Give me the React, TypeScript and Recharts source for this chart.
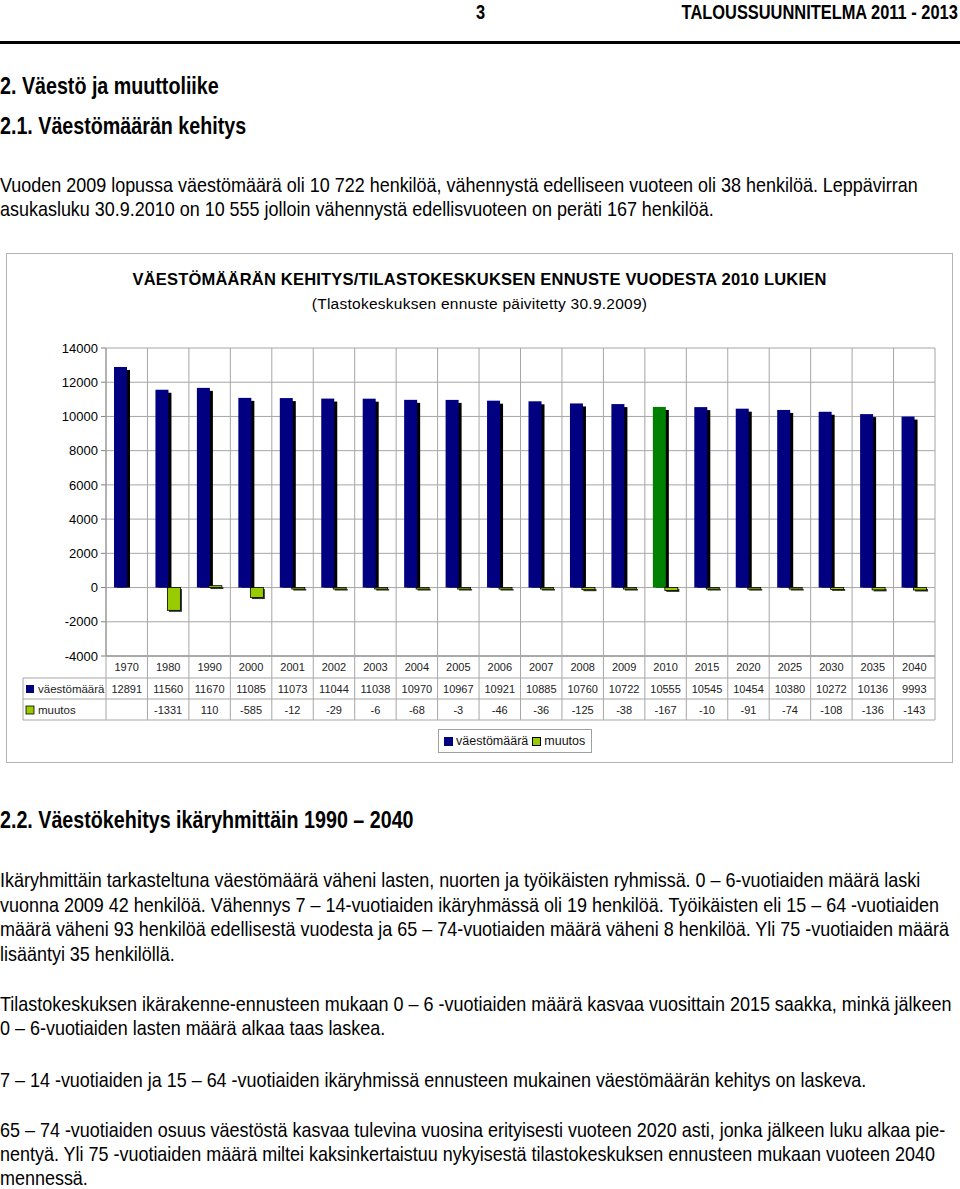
import React from "react";
import {
  BarChart,
  Bar,
  XAxis,
  YAxis,
  CartesianGrid,
  Cell,
  Legend,
} from "recharts";

// chart data
const years = [
  "1970", "1980", "1990", "2000", "2001", "2002", "2003", "2004", "2005", "2006",
  "2007", "2008", "2009", "2010", "2015", "2020", "2025", "2030", "2035", "2040",
];
const vaestomaara = [
  12891, 11560, 11670, 11085, 11073, 11044, 11038, 10970, 10967, 10921,
  10885, 10760, 10722, 10555, 10545, 10454, 10380, 10272, 10136, 9993,
];
const muutos: (number | null)[] = [
  null, -1331, 110, -585, -12, -29, -6, -68, -3, -46,
  -36, -125, -38, -167, -10, -91, -74, -108, -136, -143,
];
const yTicks = [-4000, -2000, 0, 2000, 4000, 6000, 8000, 10000, 12000, 14000];
const highlightYear = "2010";

const NAVY = "#000080";
const HILITE = "#008000";
const LIME = "#99CC00";
const GRID = "#a6a6a6";
const AXIS = "#808080";

const CHART_W = 945;
const CHART_H = 508;
const PLOT_H = 308;
const BAND = (CHART_W - 99 - 17) / years.length;

const chartFont = "'Liberation Sans', Arial, sans-serif";
// Arial Narrow is not installed, so the page text is Arial squeezed horizontally
const pageFont = "'Liberation Sans', Arial, sans-serif";
const NARROW = 0.82;
const BODY_NARROW = 0.855;

const chartData = years.map((y, i) => ({
  year: y,
  vaesto: vaestomaara[i],
  muutos: muutos[i],
}));

function ShadowBar(props: any) {
  const { x, y, width, height, fill } = props;
  if (x == null || y == null) return null;
  const top = Math.min(y, y + height);
  const h = Math.abs(height);
  return (
    <g>
      <rect x={x + 3} y={top + 3} width={width} height={Math.max(h - 3, 0)} fill="#000" />
      <rect x={x} y={top} width={width} height={h} fill={fill} />
    </g>
  );
}

function ChangeBar(props: any) {
  const { x, y, width, height } = props;
  if (x == null || y == null || height == null) return null;
  const top = Math.min(y, y + height);
  const h = Math.max(Math.abs(height), 1.5);
  return (
    <g>
      <rect x={x + 1.5} y={top + 1.5} width={width} height={h} fill="#333" />
      <rect x={x} y={top} width={width} height={h} fill={LIME} stroke="#000" strokeWidth={0.8} />
    </g>
  );
}

// draws the data table under the plot, one column per tick
function TableTick(props: any) {
  const { x, y, payload, index } = props;
  const half = (payload && payload.offset) || BAND / 2;
  const i = index ?? 0;
  const left = x - half;
  const right = x + half;
  const r1 = y + 22;
  const r2 = y + 43;
  const r3 = y + 64;
  const ch = muutos[i];
  const txt = { fontSize: 11, fontFamily: chartFont, fill: "#222", textAnchor: "middle" as const };
  return (
    <g>
      <line x1={left} x2={left} y1={y - PLOT_H} y2={r3} stroke={GRID} />
      {i === years.length - 1 && (
        <line x1={right} x2={right} y1={y - PLOT_H} y2={r3} stroke={GRID} />
      )}
      <line x1={left} x2={right} y1={r1} y2={r1} stroke={GRID} />
      <line x1={left} x2={right} y1={r2} y2={r2} stroke={GRID} />
      <line x1={left} x2={right} y1={r3} y2={r3} stroke={GRID} />
      <text x={x} y={y + 15} {...txt}>{payload.value}</text>
      <text x={x} y={r1 + 15} {...txt}>{vaestomaara[i]}</text>
      <text x={x} y={r2 + 15} {...txt}>{ch == null ? "" : ch}</text>
      {i === 0 && (
        <g>
          <line x1={left - 83} x2={left} y1={r1} y2={r1} stroke={GRID} />
          <line x1={left - 83} x2={left} y1={r2} y2={r2} stroke={GRID} />
          <line x1={left - 83} x2={left} y1={r3} y2={r3} stroke={GRID} />
          <line x1={left - 83} x2={left - 83} y1={r1} y2={r3} stroke={GRID} />
          <rect x={left - 80} y={r1 + 7} width={8} height={8} fill={NAVY} />
          <text x={left - 68} y={r1 + 15} fontSize={11.5} fontFamily={chartFont} fill="#222">
            väestömäärä
          </text>
          <rect x={left - 80} y={r2 + 7} width={8} height={8} fill={LIME} stroke="#000" strokeWidth={0.8} />
          <text x={left - 68} y={r2 + 15} fontSize={11.5} fontFamily={chartFont} fill="#222">
            muutos
          </text>
        </g>
      )}
    </g>
  );
}

function LegendBox() {
  const mark = (c: string) => (
    <span
      style={{
        display: "inline-block",
        width: 9,
        height: 9,
        background: c,
        border: c === LIME ? "1px solid #000" : "none",
        boxSizing: "border-box",
        marginRight: 3,
      }}
    />
  );
  return (
    <div style={{ paddingTop: 8, paddingLeft: 431 }}>
      <div
        style={{
          display: "inline-flex",
          alignItems: "center",
          height: 22,
          border: "1px solid #a0a0a0",
          padding: "0 6px 0 5px",
          fontFamily: chartFont,
          fontSize: 12.5,
          color: "#111",
          background: "#fff",
        }}
      >
        {mark(NAVY)}
        <span style={{ marginRight: 4 }}>väestömäärä</span>
        {mark(LIME)}
        <span>muutos</span>
      </div>
    </div>
  );
}

function PopulationChart() {
  return (
    <div
      style={{
        position: "absolute",
        left: 6,
        top: 253,
        width: CHART_W,
        height: CHART_H,
        border: "1px solid #b4b4b4",
        background: "#fff",
      }}
    >
      <div
        style={{
          position: "absolute",
          top: 16,
          width: "100%",
          textAlign: "center",
          fontFamily: chartFont,
          fontWeight: "bold",
          fontSize: 16.5,
          letterSpacing: 0.2,
        }}
      >
        VÄESTÖMÄÄRÄN KEHITYS/TILASTOKESKUKSEN ENNUSTE VUODESTA 2010 LUKIEN
      </div>
      <div
        style={{
          position: "absolute",
          top: 41,
          width: "100%",
          textAlign: "center",
          fontFamily: chartFont,
          fontSize: 15.5,
          letterSpacing: 0.25,
        }}
      >
        (Tlastokeskuksen ennuste päivitetty 30.9.2009)
      </div>
      <BarChart
        width={CHART_W}
        height={CHART_H}
        data={chartData}
        margin={{ top: 94, right: 17, left: 0, bottom: 9 }}
        barSize={13}
        barGap={-1}
      >
        <CartesianGrid vertical={false} stroke={GRID} />
        <XAxis
          dataKey="year"
          height={65}
          interval={0}
          tickSize={0}
          tickMargin={0}
          tickLine={false}
          axisLine={{ stroke: AXIS }}
          tick={<TableTick />}
        />
        <YAxis
          width={99}
          domain={[-4000, 14000]}
          ticks={yTicks}
          interval={0}
          tickSize={5}
          tickMargin={3}
          axisLine={{ stroke: AXIS }}
          tickLine={{ stroke: AXIS }}
          tick={{ fontSize: 13, fill: "#000", fontFamily: chartFont }}
        />
        <Legend verticalAlign="bottom" content={<LegendBox />} wrapperStyle={{ left: 0, width: CHART_W }} />
        <Bar dataKey="vaesto" name="väestömäärä" fill={NAVY} isAnimationActive={false} shape={<ShadowBar />}>
          {chartData.map((d) => (
            <Cell key={d.year} fill={d.year === highlightYear ? HILITE : NAVY} />
          ))}
        </Bar>
        <Bar dataKey="muutos" name="muutos" fill={LIME} isAnimationActive={false} shape={<ChangeBar />} />
      </BarChart>
    </div>
  );
}

function Line({ top, left = 0, right, size = 21, bold = false, children }: any) {
  const anchorRight = right != null;
  const squeeze = bold ? NARROW : BODY_NARROW;
  return (
    <div
      style={{
        position: "absolute",
        top: top - 12,
        left: anchorRight ? undefined : left,
        right: anchorRight ? right : undefined,
        height: 24,
        lineHeight: "24px",
        whiteSpace: "nowrap",
        fontFamily: pageFont,
        fontSize: size,
        fontWeight: bold ? "bold" : "normal",
        color: "#000",
        transform: `scaleX(${squeeze})`,
        transformOrigin: anchorRight ? "100% 50%" : "0 50%",
      }}
    >
      {children}
    </div>
  );
}

export default function App() {
  return (
    <div
      style={{
        position: "absolute",
        left: 0,
        top: 0,
        width: 960,
        height: 1189,
        background: "#fff",
        overflow: "hidden",
      }}
    >
      <Line top={12} left={476} size={20} bold>3</Line>
      <Line top={12} right={2} size={20} bold>TALOUSSUUNNITELMA 2011 - 2013</Line>
      <div style={{ position: "absolute", top: 41, left: 0, width: 960, height: 3, background: "#000" }} />

      <Line top={86} size={24} bold>2. Väestö ja muuttoliike</Line>
      <Line top={126} size={24} bold>2.1. Väestömäärän kehitys</Line>
      <Line top={185}>
        Vuoden 2009 lopussa väestömäärä oli 10 722 henkilöä, vähennystä edelliseen vuoteen oli 38 henkilöä. Leppävirran
      </Line>
      <Line top={209}>asukasluku 30.9.2010 on 10 555 jolloin vähennystä edellisvuoteen on peräti 167 henkilöä.</Line>

      <PopulationChart />

      <Line top={820} size={24} bold>2.2. Väestökehitys ikäryhmittäin 1990 – 2040</Line>
      <Line top={880}>
        Ikäryhmittäin tarkasteltuna väestömäärä väheni lasten, nuorten ja työikäisten ryhmissä. 0 – 6-vuotiaiden määrä laski
      </Line>
      <Line top={905}>
        vuonna 2009 42 henkilöä. Vähennys 7 – 14-vuotiaiden ikäryhmässä oli 19 henkilöä. Työikäisten eli 15 – 64 -vuotiaiden
      </Line>
      <Line top={929}>
        määrä väheni 93 henkilöä edellisestä vuodesta ja 65 – 74-vuotiaiden määrä väheni 8 henkilöä. Yli 75 -vuotiaiden määrä
      </Line>
      <Line top={954}>lisääntyi 35 henkilöllä.</Line>
      <Line top={1004}>
        Tilastokeskuksen ikärakenne-ennusteen mukaan 0 – 6 -vuotiaiden määrä kasvaa vuosittain 2015 saakka, minkä jälkeen
      </Line>
      <Line top={1028}>0 – 6-vuotiaiden lasten määrä alkaa taas laskea.</Line>
      <Line top={1080}>
        7 – 14 -vuotiaiden ja 15 – 64 -vuotiaiden ikäryhmissä ennusteen mukainen väestömäärän kehitys on laskeva.
      </Line>
      <Line top={1130}>
        65 – 74 -vuotiaiden osuus väestöstä kasvaa tulevina vuosina erityisesti vuoteen 2020 asti, jonka jälkeen luku alkaa pie-
      </Line>
      <Line top={1154}>
        nentyä. Yli 75 -vuotiaiden määrä miltei kaksinkertaistuu nykyisestä tilastokeskuksen ennusteen mukaan vuoteen 2040
      </Line>
      <Line top={1178}>mennessä.</Line>
    </div>
  );
}
